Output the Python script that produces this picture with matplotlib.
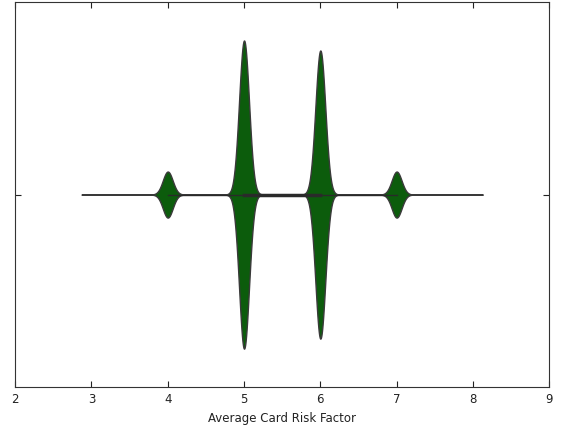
import numpy as np
import matplotlib.pyplot as plt

# average card risk factor: observed values and how often each occurs
risk_values = [3, 4, 5, 6, 7, 8]
risk_counts = [1, 230, 1540, 1440, 230, 1]
x_ticks = [2, 3, 4, 5, 6, 7, 8, 9]

bw = 0.065
data = np.repeat(np.array(risk_values, dtype=float), risk_counts)

# gaussian kde, cut at 2 bandwidths past the data
grid = np.linspace(data.min() - 2 * bw, data.max() + 2 * bw, 3000)
dens = np.array([np.exp(-0.5 * ((g - np.array(risk_values)) / bw) ** 2) @ np.array(risk_counts)
                 for g in grid])
dens = dens / dens.max() * 0.4

q1, med, q3 = np.percentile(data, [25, 50, 75])
iqr = q3 - q1
w_lo = data[data >= q1 - 1.5 * iqr].min()
w_hi = data[data <= q3 + 1.5 * iqr].max()

fig, ax = plt.subplots(figsize=(5.61, 4.27), dpi=100)
fig.subplots_adjust(left=0.027, right=0.979, bottom=0.091, top=0.993)

ax.fill_between(grid, -dens, dens, facecolor='#0c5c0c', edgecolor='#3a3a3a', lw=1.0, zorder=2)
ax.plot([w_lo, w_hi], [0, 0], color='#2a2a2a', lw=1.0, zorder=3)
ax.plot([q1, q3], [0, 0], color='#2a2a2a', lw=2.5, zorder=3)

ax.set_xlim(2, 9)
ax.set_ylim(0.5, -0.5)
ax.set_xticks(x_ticks)
ax.set_yticks([0])
ax.set_yticklabels([''])
ax.tick_params(direction='in', top=True, right=True, length=4, labelsize=8.5, colors='#222222')
ax.set_xlabel('Average Card Risk Factor', fontsize=8.5, color='#222222')
for s in ax.spines.values():
    s.set_color('#333333')

plt.savefig('out.png', dpi=100)
